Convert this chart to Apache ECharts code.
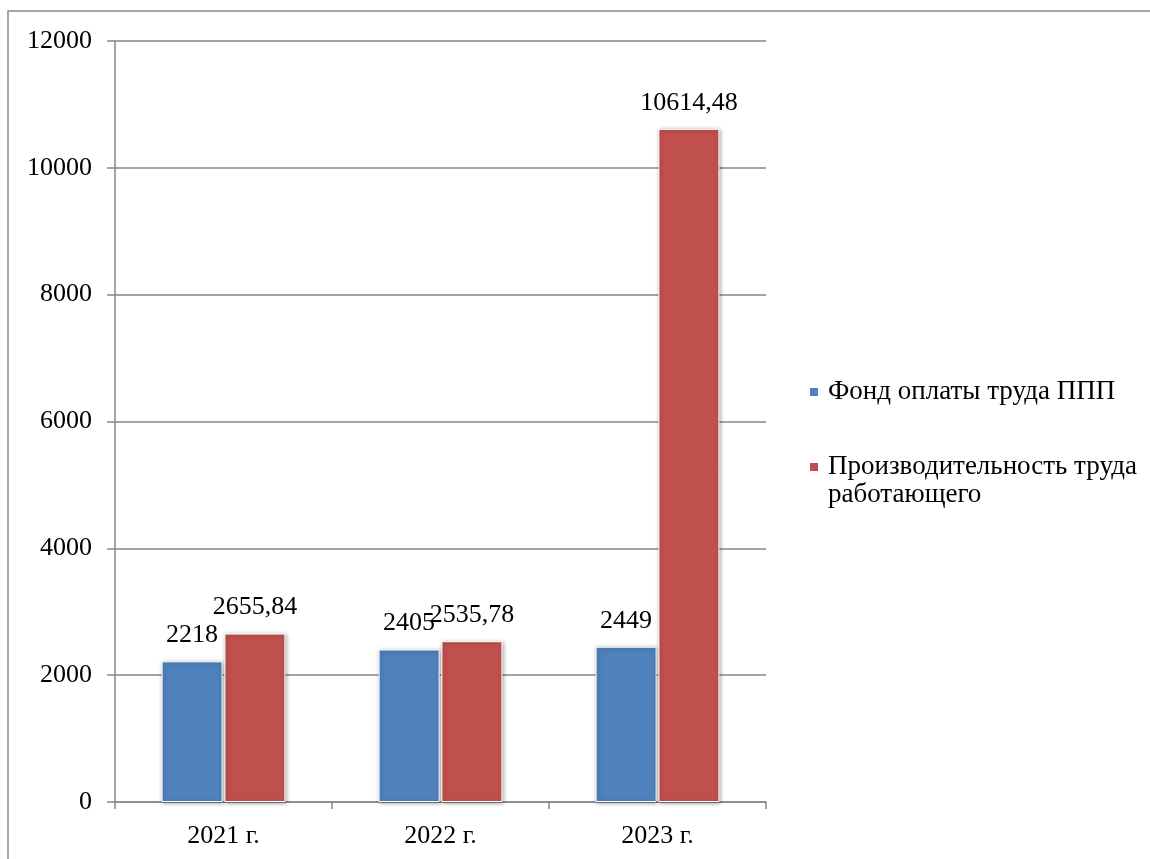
<!DOCTYPE html>
<html>
<head>
<meta charset="utf-8">
<script src="https://cdn.jsdelivr.net/npm/echarts@6/dist/echarts.min.js"></script>
<style>
  html, body { margin: 0; padding: 0; background: #fff; }
  #chart { width: 1150px; height: 859px; }
</style>
</head>
<body>
<div id="chart"></div>
<script>
// Years on the category axis
var years = ['2021 г.', '2022 г.', '2023 г.'];
// Series names
var nameFund = 'Фонд оплаты труда ППП';
var nameProd = 'Производительность труда работающего';
// Values
var fundValues = [2218, 2405, 2449];
var prodValues = [2655.84, 2535.78, 10614.48];
// Value axis range
var yMin = 0, yMax = 12000, yStep = 2000;

var FONT = 'Liberation Serif';
var AXIS_COLOR = '#868686';

function fmt(v) {
  return String(v).replace('.', ',');
}

var chart = echarts.init(document.getElementById('chart'), null, { renderer: 'canvas' });

var barStyle = function (color) {
  return {
    color: color,
    borderColor: '#ffffff',
    borderWidth: 1,
    shadowColor: 'rgba(0,0,0,0.35)',
    shadowBlur: 4,
    shadowOffsetX: 1,
    shadowOffsetY: 1
  };
};

var labelStyle = {
  show: true,
  position: 'top',
  distance: 13,
  color: '#000',
  fontFamily: FONT,
  fontSize: 26,
  formatter: function (p) { return fmt(p.value); }
};

chart.setOption({
  animation: false,
  backgroundColor: '#ffffff',
  textStyle: { fontFamily: FONT },
  graphic: [{
    type: 'rect',
    shape: { x: 8, y: 11, width: 1160, height: 880 },
    style: { fill: 'none', stroke: '#8a8a8a', lineWidth: 1.5 },
    silent: true,
    z: -10
  }],
  grid: { left: 115, top: 41, width: 651, bottom: 57, containLabel: false },
  legend: [{
    orient: 'vertical',
    left: 808,
    top: 378,
    padding: 0,
    data: [nameFund],
    icon: 'rect',
    itemWidth: 10,
    itemHeight: 10,
    textStyle: { fontFamily: FONT, fontSize: 27, color: '#000', lineHeight: 28, padding: [0, 0, 0, 4] },
    formatter: function (n) { return n; }
  }, {
    orient: 'vertical',
    left: 808,
    top: 425,
    padding: 0,
    data: [nameProd],
    icon: 'rect',
    itemWidth: 10,
    itemHeight: 10,
    textStyle: { fontFamily: FONT, fontSize: 27, color: '#000', lineHeight: 28, padding: [0, 0, 0, 4] },
    // an empty first line keeps the marker level with the first text line
    formatter: function () { return ' \nПроизводительность труда\nработающего'; }
  }],
  xAxis: {
    type: 'category',
    data: years,
    boundaryGap: true,
    axisLine: { lineStyle: { color: AXIS_COLOR, width: 1.5 } },
    axisTick: { show: true, length: 7, inside: false, lineStyle: { color: AXIS_COLOR, width: 1.5 } },
    axisLabel: { color: '#000', fontFamily: FONT, fontSize: 26, margin: 21 }
  },
  yAxis: {
    type: 'value',
    min: yMin,
    max: yMax,
    interval: yStep,
    axisLine: { show: true, lineStyle: { color: AXIS_COLOR, width: 1.5 } },
    axisTick: { show: true, length: 8, lineStyle: { color: AXIS_COLOR, width: 1.5 } },
    splitLine: { show: true, lineStyle: { color: AXIS_COLOR, width: 1.5 } },
    axisLabel: {
      color: '#000', fontFamily: FONT, fontSize: 26, margin: 23,
      formatter: function (v) { return String(v); }
    }
  },
  series: [{
    name: nameFund,
    type: 'bar',
    data: fundValues,
    barWidth: 61,
    barGap: '3%',
    itemStyle: barStyle('#4F81BD'),
    label: labelStyle
  }, {
    name: nameProd,
    type: 'bar',
    data: prodValues,
    barWidth: 61,
    barGap: '3%',
    itemStyle: barStyle('#C0504D'),
    label: labelStyle
  }]
});
</script>
</body>
</html>
